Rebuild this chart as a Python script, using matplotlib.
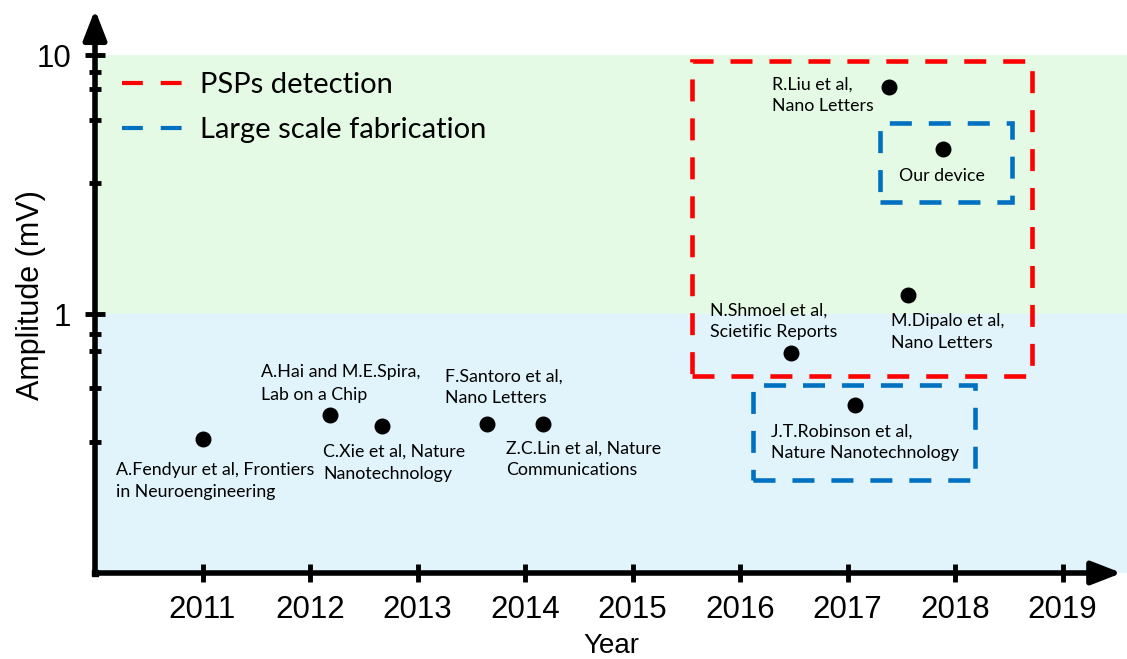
import matplotlib
matplotlib.use("Agg")
import matplotlib.pyplot as plt
from matplotlib.lines import Line2D
from matplotlib.patches import Rectangle

# ---- data ----
labels = [
    "A.Fendyur et al, Frontiers\nin Neuroengineering",
    "A.Hai and M.E.Spira,\nLab on a Chip",
    "C.Xie et al, Nature\nNanotechnology",
    "F.Santoro et al,\nNano Letters",
    "Z.C.Lin et al, Nature\nCommunications",
    "N.Shmoel et al,\nScietific Reports",
    "J.T.Robinson et al,\nNature Nanotechnology",
    "M.Dipalo et al,\nNano Letters",
    "R.Liu et al,\nNano Letters",
    "Our device",
]
years = [2011.0, 2012.19, 2012.67, 2013.65, 2014.17, 2016.47, 2017.07, 2017.56, 2017.39, 2017.89]
amplitudes = [0.328, 0.406, 0.368, 0.375, 0.375, 0.706, 0.444, 1.185, 7.52, 4.36]

year_ticks = [2011, 2012, 2013, 2014, 2015, 2016, 2017, 2018, 2019]
amp_major_ticks = [1, 10]
amp_major_labels = ["1", "10"]
amp_minor_ticks = [0.32, 0.52, 0.72, 0.84, 3.2, 5.6, 7.4, 8.6]

# highlighted groups: (x0, x1, y0, y1)
psp_box = (2015.55, 2018.72, 0.575, 9.48)
fab_boxes = [(2017.30, 2018.53, 2.72, 5.45), (2016.12, 2018.19, 0.229, 0.531)]

# label offsets in pixels (left edge, vertical centre of text block)
label_offsets = [(-86, -42), (-69, 32), (-59, -36), (-42, 37), (-37, -35),
                 (-81, 32), (-84, -37), (-17, -37), (-117, -8), (-44, -27)]

# ---- figure ----
W, H = 1127, 659
fig = plt.figure(figsize=(W / 100, H / 100), dpi=100)
x_left_px, x_right_px = 95, 1127
y_bottom_px, y_top_px = 573, 9.6
ax = fig.add_axes([x_left_px / W, (H - y_bottom_px) / H,
                   (x_right_px - x_left_px) / W, (y_bottom_px - y_top_px) / H])
ax.set_yscale("log")
ax.set_xlim(2010.0, 2019.6)
ax.set_ylim(0.1, 15)

green = "#e4fae4"
blue = "#e1f4fc"
ax.axhspan(1, 10, color=green, zorder=0, lw=0)
ax.axhspan(0.1, 1, color=blue, zorder=0, lw=0)

for s in ax.spines.values():
    s.set_visible(False)

# axes lines with arrows
arrow_kw = dict(arrowstyle="-|>,head_length=0.9,head_width=0.35", lw=4, color="black",
                shrinkA=0, shrinkB=0, mutation_scale=20)
ax.annotate("", xy=(2010.0, 15), xytext=(2010.0, 0.1), arrowprops=arrow_kw,
            annotation_clip=False, zorder=5)
ax.annotate("", xy=(2019.55, 0.1), xytext=(2010.0, 0.1), arrowprops=arrow_kw,
            annotation_clip=False, zorder=5)
ax.plot([2010.0], [0.1], marker="s", ms=4, color="black", clip_on=False, zorder=6)

arial = ["Liberation Sans", "DejaVu Sans"]
tick_font = dict(family=arial, size=22.5)
ax.set_xticks(year_ticks)
ax.set_xticklabels([str(y) for y in year_ticks], **tick_font)
ax.set_yticks(amp_major_ticks)
ax.set_yticklabels(amp_major_labels, **tick_font)
ax.set_yticks(amp_minor_ticks, minor=True)
ax.set_yticklabels([], minor=True)
ax.tick_params(axis="x", direction="inout", length=13, width=3.5, pad=9)
ax.tick_params(axis="y", which="major", direction="inout", length=14, width=3.5, pad=10)
ax.tick_params(axis="y", which="minor", direction="inout", length=8, width=3.5)

label_font = ["Lato", "DejaVu Sans"]
ax.set_xlabel("Year", fontsize=20, family=arial, labelpad=6)
ax.set_ylabel("Amplitude (mV)", fontsize=22, family=arial)
ax.yaxis.set_label_coords(-0.0475, 0.4934)

# highlight boxes
red_c = "#ff0000"
blue_c = "#0070c0"
dash = (0, (4.8, 3.7))
x0, x1, y0, y1 = psp_box
ax.add_patch(Rectangle((x0, y0), x1 - x0, y1 - y0, fill=False, edgecolor=red_c,
                       lw=3.3, linestyle=dash, zorder=3))
for (x0, x1, y0, y1) in fab_boxes:
    ax.add_patch(Rectangle((x0, y0), x1 - x0, y1 - y0, fill=False, edgecolor=blue_c,
                           lw=3.3, linestyle=dash, zorder=3))

# points
ax.scatter(years, amplitudes, s=110, color="black", zorder=4)
for lab, x, y, off in zip(labels, years, amplitudes, label_offsets):
    ax.annotate(lab, xy=(x, y), xytext=off, textcoords="offset pixels",
                ha="left", va="center", fontsize=12.8, family=label_font,
                linespacing=1.47, zorder=6)

handles = [Line2D([], [], color=red_c, lw=3.0, linestyle=(0, (5.0, 4.3))),
           Line2D([], [], color=blue_c, lw=3.0, linestyle=(0, (5.0, 4.3)))]
ax.legend(handles, ["PSPs detection", "Large scale fabrication"],
          loc="upper left", bbox_to_anchor=(122 / W, 1 - 72 / H),
          bbox_transform=fig.transFigure, frameon=False,
          prop=dict(family=label_font, size=21), handlelength=2.05,
          handletextpad=0.62, labelspacing=0.645, borderpad=0, borderaxespad=0)

fig.savefig("out.png", dpi=100)
